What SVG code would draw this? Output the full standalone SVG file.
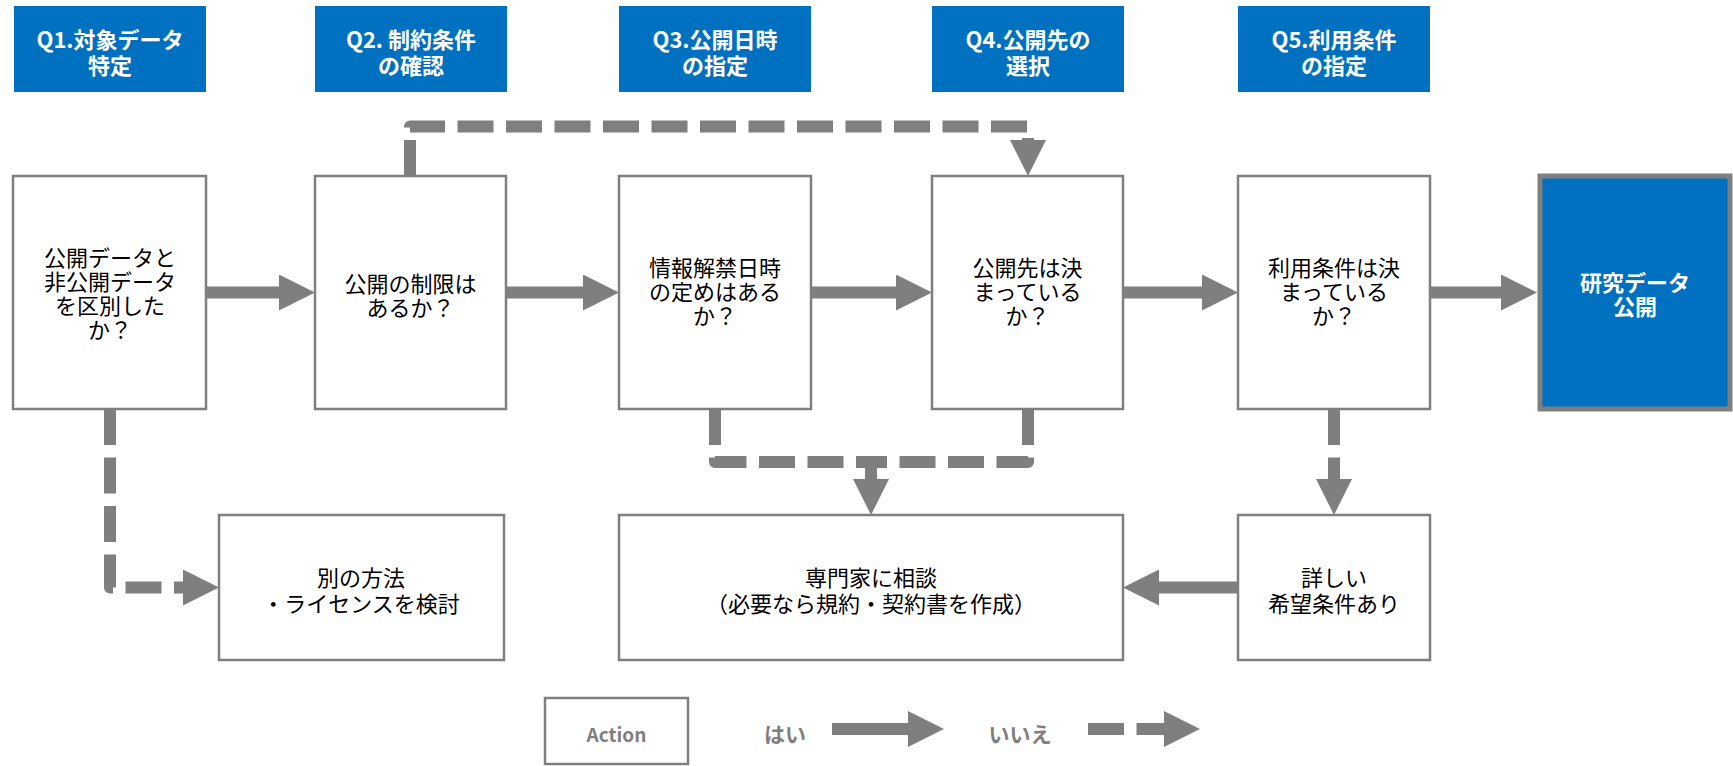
<svg xmlns="http://www.w3.org/2000/svg" width="1733" height="766" viewBox="0 0 1733 766">
<defs>
<marker id="ah" viewBox="0 0 3 3" markerUnits="strokeWidth" markerWidth="3" markerHeight="3" refX="0" refY="1.5" orient="auto">
<path d="M0,0 L3,1.5 L0,3 z" fill="#7f7f7f"/>
</marker>
<style>
.hdr{fill:#0070c0}
.hdrt{font-family:"Noto Sans CJK JP","Noto Sans",sans-serif;font-weight:700;font-size:22px;fill:#ffffff;text-anchor:middle;dominant-baseline:central}
.box{fill:#ffffff;stroke:#7f7f7f;stroke-width:2.5}
.boxt{font-family:"Noto Sans CJK JP","Noto Sans",sans-serif;font-size:22px;fill:#000000;text-anchor:middle;dominant-baseline:central}
.fin{fill:#0070c0;stroke:#7f7f7f;stroke-width:5}
.fint{font-family:"Noto Sans CJK JP","Noto Sans",sans-serif;font-weight:700;font-size:22px;fill:#ffffff;text-anchor:middle;dominant-baseline:central}
.yes{fill:none;stroke:#7f7f7f;stroke-width:12;marker-end:url(#ah)}
.no{fill:none;stroke:#7f7f7f;stroke-width:12;stroke-dasharray:36 12.5;stroke-linejoin:round;marker-end:url(#ah)}
.non{fill:none;stroke:#7f7f7f;stroke-width:12;stroke-dasharray:36 12.5;stroke-linejoin:round}
.leg{font-family:"Noto Sans CJK JP","Noto Sans",sans-serif;font-weight:700;fill:#7f7f7f;text-anchor:middle;dominant-baseline:central}
</style>
</defs>

<g id="q1"><rect class="hdr" x="14" y="6" width="192" height="86"/><text class="hdrt" x="110" y="37.5">Q1.対象データ</text><text class="hdrt" x="110" y="64">特定</text></g>
<g id="q2"><rect class="hdr" x="315" y="6" width="192" height="86"/><text class="hdrt" x="411" y="37.5">Q2. 制約条件</text><text class="hdrt" x="411" y="64">の確認</text></g>
<g id="q3"><rect class="hdr" x="619" y="6" width="192" height="86"/><text class="hdrt" x="715" y="37.5">Q3.公開日時</text><text class="hdrt" x="715" y="64">の指定</text></g>
<g id="q4"><rect class="hdr" x="932" y="6" width="192" height="86"/><text class="hdrt" x="1028" y="37.5">Q4.公開先の</text><text class="hdrt" x="1028" y="64">選択</text></g>
<g id="q5"><rect class="hdr" x="1238" y="6" width="192" height="86"/><text class="hdrt" x="1334" y="37.5">Q5.利用条件</text><text class="hdrt" x="1334" y="64">の指定</text></g>

<g id="connectors">
<path class="yes" d="M206,292.5 H279"/>
<path class="yes" d="M506,292.5 H583"/>
<path class="yes" d="M811,292.5 H896"/>
<path class="yes" d="M1123,292.5 H1202"/>
<path class="yes" d="M1430,292.5 H1501"/>
<path class="yes" d="M1238,587.5 H1159"/>
<path class="no" d="M410,176 V126.5 H1028 V140"/>
<path class="no" d="M110,409 V587.5 H183"/>
<path class="non" d="M715,409 V462 H871"/>
<path class="non" d="M1028,409 V462 H871"/>
<path class="yes" d="M871,462 V479"/>
<path class="no" d="M1334,409 V479"/>
<path class="yes" d="M832,729 H908"/>
<path class="no" d="M1088,729 H1164"/>
</g>

<g id="n1"><rect class="box" x="13" y="176" width="193" height="233"/>
<text class="boxt" x="110" y="256">公開データと</text><text class="boxt" x="110" y="280">非公開データ</text><text class="boxt" x="110" y="304">を区別した</text><text class="boxt" x="110" y="328">か？</text></g>
<g id="n2"><rect class="box" x="315" y="176" width="191" height="233"/>
<text class="boxt" x="410.5" y="282">公開の制限は</text><text class="boxt" x="410.5" y="306">あるか？</text></g>
<g id="n3"><rect class="box" x="619" y="176" width="192" height="233"/>
<text class="boxt" x="715" y="266">情報解禁日時</text><text class="boxt" x="715" y="290">の定めはある</text><text class="boxt" x="715" y="314">か？</text></g>
<g id="n4"><rect class="box" x="932" y="176" width="191" height="233"/>
<text class="boxt" x="1027.5" y="266">公開先は決</text><text class="boxt" x="1027.5" y="290">まっている</text><text class="boxt" x="1027.5" y="314">か？</text></g>
<g id="n5"><rect class="box" x="1238" y="176" width="192" height="233"/>
<text class="boxt" x="1334" y="266">利用条件は決</text><text class="boxt" x="1334" y="290">まっている</text><text class="boxt" x="1334" y="314">か？</text></g>
<g id="n6"><rect class="fin" x="1540" y="176" width="190" height="233"/>
<text class="fint" x="1635" y="281">研究データ</text><text class="fint" x="1635" y="305">公開</text></g>
<g id="n7"><rect class="box" x="219" y="515" width="285" height="145"/>
<text class="boxt" x="361" y="576">別の方法</text><text class="boxt" x="361" y="602">・ライセンスを検討</text></g>
<g id="n8"><rect class="box" x="619" y="515" width="504" height="145"/>
<text class="boxt" x="871" y="576">専門家に相談</text><text class="boxt" x="871" y="602">（必要なら規約・契約書を作成）</text></g>
<g id="n9"><rect class="box" x="1238" y="515" width="192" height="145"/>
<text class="boxt" x="1334" y="576">詳しい</text><text class="boxt" x="1334" y="602">希望条件あり</text></g>

<g id="legend">
<rect class="box" x="545" y="698" width="143" height="66"/>
<text class="leg" x="616.5" y="733" font-size="19">Action</text>
<text class="leg" x="785" y="733" font-size="21">はい</text>
<text class="leg" x="1020" y="733" font-size="21">いいえ</text>
</g>
</svg>
